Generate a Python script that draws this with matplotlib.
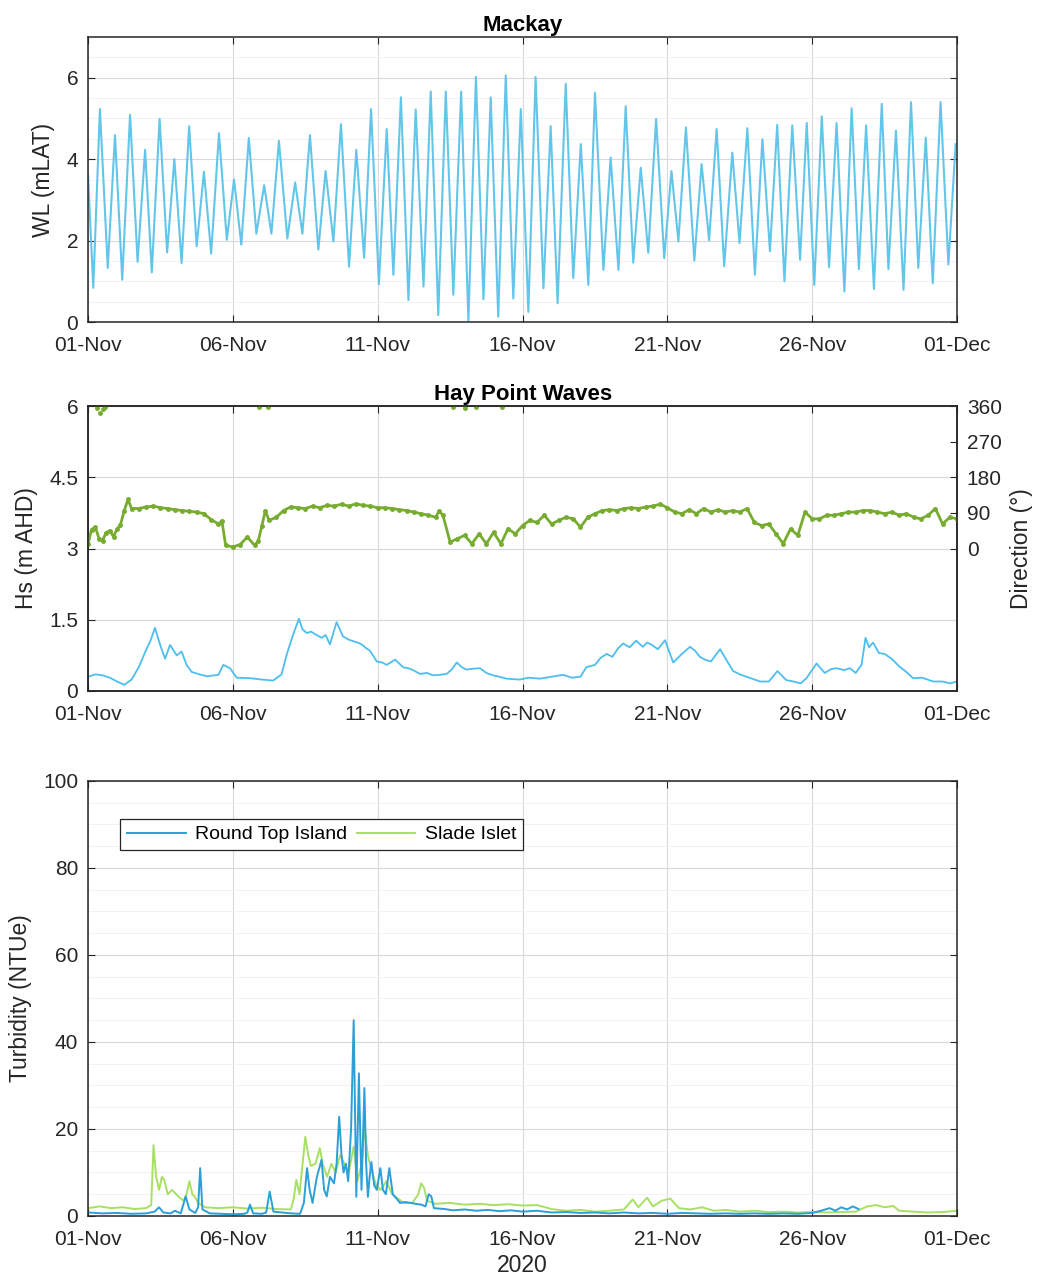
import numpy as np
import pandas as pd
import matplotlib
matplotlib.use('Agg')
import matplotlib.pyplot as plt
import matplotlib.dates as mdates
from matplotlib.ticker import MultipleLocator

plt.rcParams['font.family'] = ['Liberation Sans', 'DejaVu Sans']
plt.rcParams['font.size'] = 15

# start of the record, all times below are days after this
t0 = pd.Timestamp('2020-11-01')

# Mackay tide, high / low turning points (days, mLAT)
tide_day = [0.0, 0.18, 0.41, 0.68, 0.93, 1.18, 1.45, 1.71, 1.97, 2.20, 2.47, 2.73, 2.98, 3.23,
            3.49, 3.75, 4.00, 4.25, 4.52, 4.79, 5.04, 5.29, 5.55, 5.81, 6.08, 6.33, 6.59, 6.88,
            7.15, 7.40, 7.66, 7.95, 8.20, 8.47, 8.73, 9.01, 9.26, 9.53, 9.77, 10.04, 10.31, 10.54,
            10.80, 11.06, 11.31, 11.58, 11.83, 12.09, 12.35, 12.61, 12.88, 13.13, 13.39, 13.65,
            13.90, 14.16, 14.42, 14.68, 14.94, 15.20, 15.45, 15.72, 15.97, 16.21, 16.49, 16.75,
            17.01, 17.27, 17.50, 17.79, 18.04, 18.31, 18.56, 18.82, 19.08, 19.34, 19.61, 19.89,
            20.14, 20.38, 20.64, 20.93, 21.18, 21.44, 21.70, 21.96, 22.24, 22.49, 22.76, 23.02,
            23.28, 23.54, 23.79, 24.04, 24.31, 24.58, 24.81, 25.07, 25.33, 25.58, 25.84, 26.11,
            26.36, 26.61, 26.86, 27.13, 27.40, 27.63, 27.89, 28.15, 28.41, 28.66, 28.92, 29.16,
            29.43, 29.70, 29.95]
tide_wl = [3.6, 0.84, 5.23, 1.33, 4.59, 1.04, 5.09, 1.48, 4.23, 1.22, 4.99, 1.71, 4.00, 1.45,
           4.81, 1.86, 3.69, 1.68, 4.64, 2.02, 3.50, 1.90, 4.52, 2.17, 3.36, 2.17, 4.45, 2.05,
           3.43, 2.17, 4.59, 1.78, 3.71, 1.98, 4.86, 1.36, 4.23, 1.58, 5.23, 0.93, 4.74, 1.16,
           5.52, 0.54, 5.22, 0.87, 5.66, 0.17, 5.66, 0.67, 5.66, 0.02, 6.02, 0.56, 5.52, 0.13,
           6.06, 0.58, 5.23, 0.25, 6.02, 0.83, 4.81, 0.46, 5.85, 1.08, 4.37, 0.91, 5.63, 1.28,
           4.04, 1.28, 5.30, 1.46, 3.79, 1.70, 4.99, 1.57, 3.71, 1.98, 4.78, 1.51, 3.88, 2.01,
           4.74, 1.37, 4.16, 1.94, 4.76, 1.16, 4.49, 1.74, 4.84, 1.00, 4.83, 1.53, 4.89, 0.91,
           5.05, 1.35, 4.89, 0.75, 5.25, 1.30, 4.83, 0.81, 5.36, 1.30, 4.70, 0.79, 5.40, 1.33,
           4.53, 0.95, 5.40, 1.41, 4.37]

# Hay Point significant wave height (day, m)
hs_pts = [(0, 0.30), (0.25, 0.35), (0.5, 0.33), (0.75, 0.28), (1.0, 0.20), (1.25, 0.13),
          (1.5, 0.24), (1.75, 0.50), (2.0, 0.86), (2.15, 1.05), (2.31, 1.33), (2.5, 0.95),
          (2.66, 0.68), (2.83, 0.97), (3.06, 0.75), (3.23, 0.83), (3.4, 0.55), (3.58, 0.40),
          (3.85, 0.35), (4.1, 0.31), (4.5, 0.34), (4.67, 0.55), (4.9, 0.48), (5.13, 0.28),
          (5.6, 0.27), (6.0, 0.24), (6.39, 0.22), (6.68, 0.35), (6.86, 0.77), (7.08, 1.19),
          (7.28, 1.52), (7.4, 1.30), (7.55, 1.22), (7.7, 1.25), (7.83, 1.20), (8.06, 1.12),
          (8.2, 1.18), (8.35, 0.98), (8.58, 1.45), (8.8, 1.15), (9.0, 1.08), (9.15, 1.05),
          (9.3, 1.02), (9.45, 0.98), (9.6, 0.90), (9.73, 0.85), (9.97, 0.62), (10.15, 0.60),
          (10.31, 0.55), (10.6, 0.66), (10.88, 0.50), (11.05, 0.48), (11.22, 0.44), (11.46, 0.36),
          (11.7, 0.38), (11.91, 0.33), (12.15, 0.34), (12.38, 0.36), (12.55, 0.45), (12.73, 0.60),
          (12.9, 0.50), (13.07, 0.45), (13.3, 0.47), (13.53, 0.48), (13.75, 0.38), (13.98, 0.33),
          (14.2, 0.30), (14.45, 0.26), (14.9, 0.24), (15.2, 0.28), (15.6, 0.26), (16.0, 0.30),
          (16.4, 0.34), (16.7, 0.28), (17.0, 0.30), (17.2, 0.50), (17.5, 0.55), (17.7, 0.70),
          (17.9, 0.78), (18.1, 0.72), (18.3, 0.90), (18.47, 1.00), (18.7, 0.92), (18.92, 1.06),
          (19.15, 0.93), (19.3, 1.02), (19.44, 0.98), (19.67, 0.88), (19.92, 1.07), (20.2, 0.60),
          (20.5, 0.78), (20.78, 0.93), (20.95, 0.85), (21.12, 0.72), (21.3, 0.66), (21.5, 0.62),
          (21.82, 0.88), (22.05, 0.64), (22.27, 0.42), (22.5, 0.35), (22.73, 0.30), (23.0, 0.24),
          (23.2, 0.20), (23.5, 0.20), (23.8, 0.42), (24.1, 0.23), (24.35, 0.20), (24.6, 0.16),
          (24.8, 0.27), (25.15, 0.58), (25.43, 0.38), (25.65, 0.46), (25.84, 0.48), (26.1, 0.44),
          (26.3, 0.48), (26.5, 0.38), (26.7, 0.55), (26.84, 1.12), (26.96, 0.92), (27.1, 1.02),
          (27.3, 0.80), (27.5, 0.78), (27.74, 0.68), (28.0, 0.52), (28.25, 0.40), (28.48, 0.27),
          (28.8, 0.28), (29.17, 0.20), (29.5, 0.20), (29.75, 0.16), (30.0, 0.20)]

# wave direction (day, deg)
dir_pts = [(0, 12), (0.12, 48), (0.25, 54), (0.38, 25), (0.5, 20), (0.62, 40), (0.75, 45),
           (0.88, 30), (1.0, 49), (1.12, 60), (1.25, 96), (1.38, 124), (1.5, 101), (1.75, 101),
           (2.0, 105), (2.25, 107), (2.5, 103), (2.75, 101), (3.0, 98), (3.25, 96), (3.5, 94),
           (3.75, 92), (4.0, 88), (4.25, 73), (4.5, 62), (4.62, 70), (4.75, 8), (5.0, 4),
           (5.25, 10), (5.5, 29), (5.75, 8), (5.88, 20), (6.0, 58), (6.12, 95), (6.25, 71),
           (6.5, 79), (6.75, 96), (7.0, 105), (7.25, 103), (7.5, 101), (7.75, 107), (8.0, 103),
           (8.25, 109), (8.5, 107), (8.75, 112), (9.0, 107), (9.25, 113), (9.5, 109), (9.75, 107),
           (10.0, 103), (10.25, 103), (10.5, 101), (10.75, 98), (11.0, 96), (11.25, 92),
           (11.5, 88), (11.75, 84), (12.0, 79), (12.12, 95), (12.25, 84), (12.5, 16), (12.75, 25),
           (13.0, 33), (13.25, 12), (13.5, 37), (13.75, 12), (14.0, 41), (14.25, 12), (14.5, 50),
           (14.75, 37), (15.0, 58), (15.25, 71), (15.5, 66), (15.75, 84), (16.0, 62), (16.25, 71),
           (16.5, 79), (16.75, 75), (17.0, 54), (17.25, 79), (17.5, 88), (17.75, 96), (18.0, 98),
           (18.25, 96), (18.5, 101), (18.75, 103), (19.0, 101), (19.25, 105), (19.5, 107),
           (19.75, 112), (20.0, 103), (20.25, 92), (20.5, 88), (20.75, 98), (21.0, 88),
           (21.25, 101), (21.5, 92), (21.75, 98), (22.0, 92), (22.25, 96), (22.5, 92),
           (22.75, 101), (23.0, 66), (23.25, 58), (23.5, 62), (23.75, 37), (24.0, 12), (24.25, 50),
           (24.5, 33), (24.75, 92), (25.0, 75), (25.25, 75), (25.5, 84), (25.75, 84), (26.0, 88),
           (26.25, 92), (26.5, 92), (26.75, 96), (27.0, 96), (27.25, 92), (27.5, 88), (27.75, 92),
           (28.0, 84), (28.25, 88), (28.5, 79), (28.75, 75), (29.0, 84), (29.25, 101), (29.5, 62),
           (29.75, 79), (30.0, 75)]
# directions just under 360 (drawn at the top)
dir_wrap_pts = [(0.3, 355), (0.4, 342), (0.5, 352), (0.6, 358), (5.9, 358), (6.2, 357),
                (12.6, 358), (13.0, 356), (13.4, 358), (14.3, 357)]

# turbidity (day, NTUe)
rti_pts = [(0, 0.8), (0.5, 0.6), (1.0, 0.7), (1.5, 0.5), (2.0, 0.6), (2.3, 1.0), (2.45, 2.0),
           (2.6, 0.8), (2.85, 0.6), (3.0, 1.2), (3.2, 0.6), (3.37, 4.5), (3.5, 1.5), (3.7, 0.7),
           (3.8, 2.0), (3.87, 11.0), (3.95, 1.5), (4.2, 0.6), (4.6, 0.5), (5.0, 0.4), (5.4, 0.5),
           (5.5, 0.8), (5.59, 2.6), (5.7, 0.6), (6.0, 0.5), (6.15, 0.8), (6.27, 5.6), (6.4, 1.0),
           (6.7, 0.8), (7.0, 0.6), (7.32, 0.5), (7.45, 3.0), (7.56, 11.0), (7.65, 6.0),
           (7.75, 3.0), (7.9, 9.0), (8.06, 12.9), (8.15, 6.0), (8.24, 4.5), (8.35, 9.0),
           (8.49, 7.5), (8.58, 12.0), (8.67, 22.8), (8.75, 14.0), (8.82, 10.0), (8.9, 12.0),
           (8.98, 8.0), (9.08, 20.0), (9.17, 45.0), (9.26, 4.4), (9.35, 32.8), (9.44, 6.0),
           (9.54, 29.4), (9.6, 12.0), (9.66, 4.4), (9.72, 9.0), (9.78, 12.4), (9.88, 7.0),
           (9.97, 6.0), (10.09, 11.0), (10.18, 6.0), (10.28, 5.0), (10.4, 11.0), (10.52, 5.0),
           (10.65, 4.0), (10.77, 3.0), (10.95, 3.2), (11.14, 3.0), (11.3, 2.8), (11.51, 2.6),
           (11.65, 2.2), (11.76, 5.0), (11.85, 4.5), (11.94, 1.8), (12.3, 1.6), (12.6, 1.3),
           (13.0, 1.5), (13.4, 1.2), (13.8, 1.4), (14.2, 1.1), (14.6, 1.3), (15.0, 1.0),
           (15.5, 1.2), (16.0, 0.8), (16.5, 0.9), (17.0, 0.7), (17.5, 0.8), (18.0, 0.6),
           (18.5, 0.8), (19.0, 0.6), (19.5, 0.7), (20.0, 0.5), (20.5, 0.7), (21.0, 0.6),
           (21.5, 0.5), (22.0, 0.6), (22.5, 0.5), (23.0, 0.6), (23.5, 0.5), (24.0, 0.6),
           (24.5, 0.5), (25.0, 0.7), (25.3, 1.2), (25.6, 1.8), (25.8, 1.2), (26.0, 2.0),
           (26.2, 1.5), (26.4, 2.2), (26.6, 1.6)]
slade_pts = [(0, 1.8), (0.4, 2.2), (0.8, 1.8), (1.2, 2.0), (1.6, 1.6), (2.0, 1.8), (2.18, 2.5),
             (2.26, 16.3), (2.35, 9.0), (2.45, 6.0), (2.55, 9.0), (2.63, 8.3), (2.75, 5.0),
             (2.9, 6.0), (3.13, 4.4), (3.3, 3.5), (3.4, 5.0), (3.5, 8.0), (3.6, 5.0), (3.68, 4.5),
             (3.8, 3.0), (4.05, 2.0), (4.5, 1.8), (5.0, 2.0), (5.5, 1.7), (6.0, 1.9), (6.5, 1.6),
             (7.0, 1.5), (7.1, 4.0), (7.19, 8.3), (7.3, 5.0), (7.5, 18.2), (7.6, 14.0),
             (7.69, 11.5), (7.85, 12.0), (8.0, 15.6), (8.1, 12.0), (8.25, 9.0), (8.4, 12.0),
             (8.55, 10.0), (8.7, 14.0), (8.85, 12.0), (9.0, 10.0), (9.17, 16.0), (9.3, 8.0),
             (9.45, 12.0), (9.54, 20.5), (9.66, 14.0), (9.8, 10.0), (9.95, 7.0), (10.1, 6.0),
             (10.3, 8.0), (10.5, 5.0), (10.7, 4.0), (10.9, 3.0), (11.2, 3.0), (11.4, 5.0),
             (11.5, 7.5), (11.6, 6.5), (11.7, 3.5), (12.0, 2.8), (12.5, 3.0), (13.0, 2.6),
             (13.5, 2.8), (14.0, 2.5), (14.5, 2.7), (15.0, 2.4), (15.5, 2.5), (16.0, 1.6),
             (16.5, 1.2), (17.0, 1.4), (17.5, 1.0), (18.0, 1.2), (18.5, 1.5), (18.8, 3.8),
             (19.0, 2.0), (19.3, 4.2), (19.5, 2.2), (19.8, 3.5), (20.1, 4.0), (20.4, 1.8),
             (20.8, 1.5), (21.2, 2.0), (21.6, 1.2), (22.0, 1.4), (22.5, 1.0), (23.0, 1.2),
             (23.5, 0.9), (24.0, 1.0), (24.5, 0.8), (25.0, 0.9), (25.5, 0.8), (26.0, 0.9),
             (26.5, 1.0), (26.9, 2.2), (27.2, 2.5), (27.5, 2.0), (27.8, 2.3), (28.0, 1.2),
             (28.5, 1.0), (29.0, 0.8), (29.5, 0.9), (30.0, 1.2)]

TXT = '#262626'


def to_time(days):
    return t0 + pd.to_timedelta(np.asarray(days, dtype=float), unit='D')


def split(pts):
    d, v = zip(*pts)
    return to_time(d), np.array(v)


def style_axes(ax):
    ax.set_xlim(t0, pd.Timestamp('2020-12-01'))
    ax.xaxis.set_major_locator(mdates.DayLocator(bymonthday=[1, 6, 11, 16, 21, 26]))
    ax.xaxis.set_major_formatter(mdates.DateFormatter('%d-%b'))
    ax.tick_params(direction='in', length=5, width=0.8, top=True, right=True,
                   colors=TXT, labelcolor=TXT, labelsize=15)
    ax.tick_params(axis='x', pad=10)
    ax.tick_params(axis='y', pad=7)
    ax.tick_params(which='minor', length=0)
    ax.grid(True, which='major', color='#d9d9d9', lw=0.8)
    ax.grid(True, which='minor', axis='y', color='#f0f0f0', lw=0.6)
    for s in ax.spines.values():
        s.set_color(TXT)
        s.set_linewidth(1.1)
    ax.set_axisbelow(True)


fig = plt.figure(figsize=(10.42, 12.82), dpi=100)

# --- Mackay tide
ax1 = fig.add_axes([0.0845, 0.7488, 0.834, 0.2223])
ax1.plot(to_time(tide_day), tide_wl, color='#62c6ea', lw=1.5, solid_joinstyle='round')
ax1.set_ylim(0, 7)
ax1.set_yticks([0, 2, 4, 6])
ax1.yaxis.set_minor_locator(MultipleLocator(0.5))
ax1.set_ylabel('WL (mLAT)', color=TXT, fontsize=16.5, labelpad=8)
ax1.set_title('Mackay', fontweight='bold', fontsize=16, pad=4)
style_axes(ax1)

# --- Hay Point waves
ax2 = fig.add_axes([0.0845, 0.4610, 0.834, 0.2223])
ht, hv = split(hs_pts)
ax2.plot(ht, hv, color='#4dbeee', lw=1.3)
ax2.set_ylim(0, 6)
ax2.set_yticks([0, 1.5, 3, 4.5, 6])
ax2.set_yticklabels(['0', '1.5', '3', '4.5', '6'])
ax2.set_ylabel('Hs (m AHD)', color=TXT, fontsize=16.5, labelpad=8)
ax2.set_title('Hay Point Waves', fontweight='bold', fontsize=16, pad=4)
style_axes(ax2)

ax2r = ax2.twinx()
dt, dv = split(dir_pts)
ax2r.plot(dt, dv, color='#77ac30', lw=2.0, marker='.', ms=5)
wt, wv = split(dir_wrap_pts)
ax2r.plot(wt, wv, ls='none', color='#77ac30', marker='.', ms=5)
ax2r.set_ylim(-360, 360)
ax2r.set_yticks([0, 90, 180, 270, 360])
ax2r.set_ylabel('Direction (°)', color=TXT, fontsize=16.5, labelpad=6)
ax2r.tick_params(direction='in', length=5, width=0.8, colors=TXT, labelsize=15, pad=7)
ax2r.set_xlim(t0, pd.Timestamp('2020-12-01'))
for s in ax2r.spines.values():
    s.set_color(TXT)
    s.set_linewidth(1.1)

# --- turbidity
ax3 = fig.add_axes([0.0845, 0.0515, 0.834, 0.3393])
st, sv = split(slade_pts)
rt, rv = split(rti_pts)
l2, = ax3.plot(st, sv, color='#a8e063', lw=1.4, label='Slade Islet')
l1, = ax3.plot(rt, rv, color='#2a9fd8', lw=1.4, label='Round Top Island')
ax3.set_ylim(0, 100)
ax3.set_yticks(np.arange(0, 101, 20))
ax3.yaxis.set_minor_locator(MultipleLocator(5))
ax3.set_ylabel('Turbidity (NTUe)', color=TXT, fontsize=16.5, labelpad=8)
ax3.set_xlabel('2020', color=TXT, fontsize=16.5, labelpad=4)
style_axes(ax3)
leg = ax3.legend(handles=[l1, l2], loc='upper left', bbox_to_anchor=(0.026, 0.935),
                 ncol=2, fontsize=14, handlelength=3.0, fancybox=False, framealpha=1,
                 edgecolor=TXT, columnspacing=0.5, borderpad=0.35, handletextpad=0.5)
leg.get_frame().set_linewidth(0.9)

fig.savefig('out.png', dpi=100)
